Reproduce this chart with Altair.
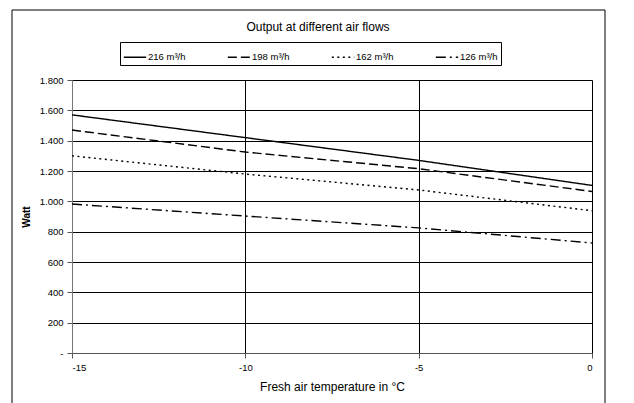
import altair as alt
import pandas as pd

temps = [-15, -10, -5, 0]
series_names = ["216 m³/h", "198 m³/h", "162 m³/h", "126 m³/h"]
flow_216 = [1570, 1420, 1270, 1105]
flow_198 = [1470, 1325, 1215, 1065]
flow_162 = [1300, 1180, 1075, 938]
flow_126 = [982, 903, 825, 725]
y_ticks = [0, 200, 400, 600, 800, 1000, 1200, 1400, 1600, 1800]
x_ticks = [-15, -10, -5, 0]

rows = []
for name, vals in zip(series_names, [flow_216, flow_198, flow_162, flow_126]):
    for t, v in zip(temps, vals):
        rows.append({"temp": t, "watt": v, "series": name})
df = pd.DataFrame(rows)

dashes = [[1, 0], [9, 4], [2, 3.5], [10, 4, 2, 4]]

lines = alt.Chart(df).mark_line(color="black", strokeWidth=1.4).encode(
    x=alt.X("temp:Q", scale=alt.Scale(domain=[-15, 0], nice=False),
            axis=alt.Axis(values=x_ticks, title="Fresh air temperature in °C",
                          labelExpr="'' + datum.value",
                          grid=True, gridColor="black", gridWidth=1,
                          domainColor="#555", tickColor="#555", tickSize=5,
                          labelFontSize=9.5, labelPadding=4, titleFontSize=12,
                          titleFontWeight="normal", titlePadding=10)),
    y=alt.Y("watt:Q", scale=alt.Scale(domain=[0, 1800], nice=False),
            axis=alt.Axis(values=y_ticks, title="Watt",
                          labelExpr="datum.value == 0 ? '-' : replace(format(datum.value, ','), ',', '.')",
                          grid=True, gridColor="black", gridWidth=1,
                          domainColor="#777", tickColor="#555", tickSize=5,
                          labelFontSize=9.5, labelPadding=4, titleFontSize=10,
                          titleFontWeight="bold", titlePadding=8)),
    strokeDash=alt.StrokeDash("series:N",
                              scale=alt.Scale(domain=series_names, range=dashes),
                              legend=alt.Legend(orient="none", legendX=48, legendY=-38,
                                                direction="horizontal", title=None,
                                                strokeColor="black", padding=3,
                                                symbolType="stroke", symbolStrokeWidth=1.5,
                                                symbolStrokeColor="black",
                                                symbolSize=500, columnPadding=38,
                                                labelFontSize=9.5, labelOffset=1,
                                                columns=4)),
    order="temp:Q",
)

frame = alt.Chart(pd.DataFrame({"a": [0]})).mark_rect(
    fill=None, stroke="black", strokeWidth=1, clip=False
).encode(
    x=alt.value(-60), x2=alt.value(533), y=alt.value(-70), y2=alt.value(340)
)

chart = alt.layer(frame, lines).properties(
    width=520, height=273,
    title=alt.TitleParams("Output at different air flows", fontSize=12,
                          fontWeight="normal", offset=-24, dx=-14),
    autosize=alt.AutoSizeParams(type="none"),
    padding={"left": 64, "top": 72, "right": 30, "bottom": 60},
).configure_view(stroke="#888").configure(font="Liberation Sans")

chart.save("out.html", embed_options={"renderer": "svg", "actions": False})
